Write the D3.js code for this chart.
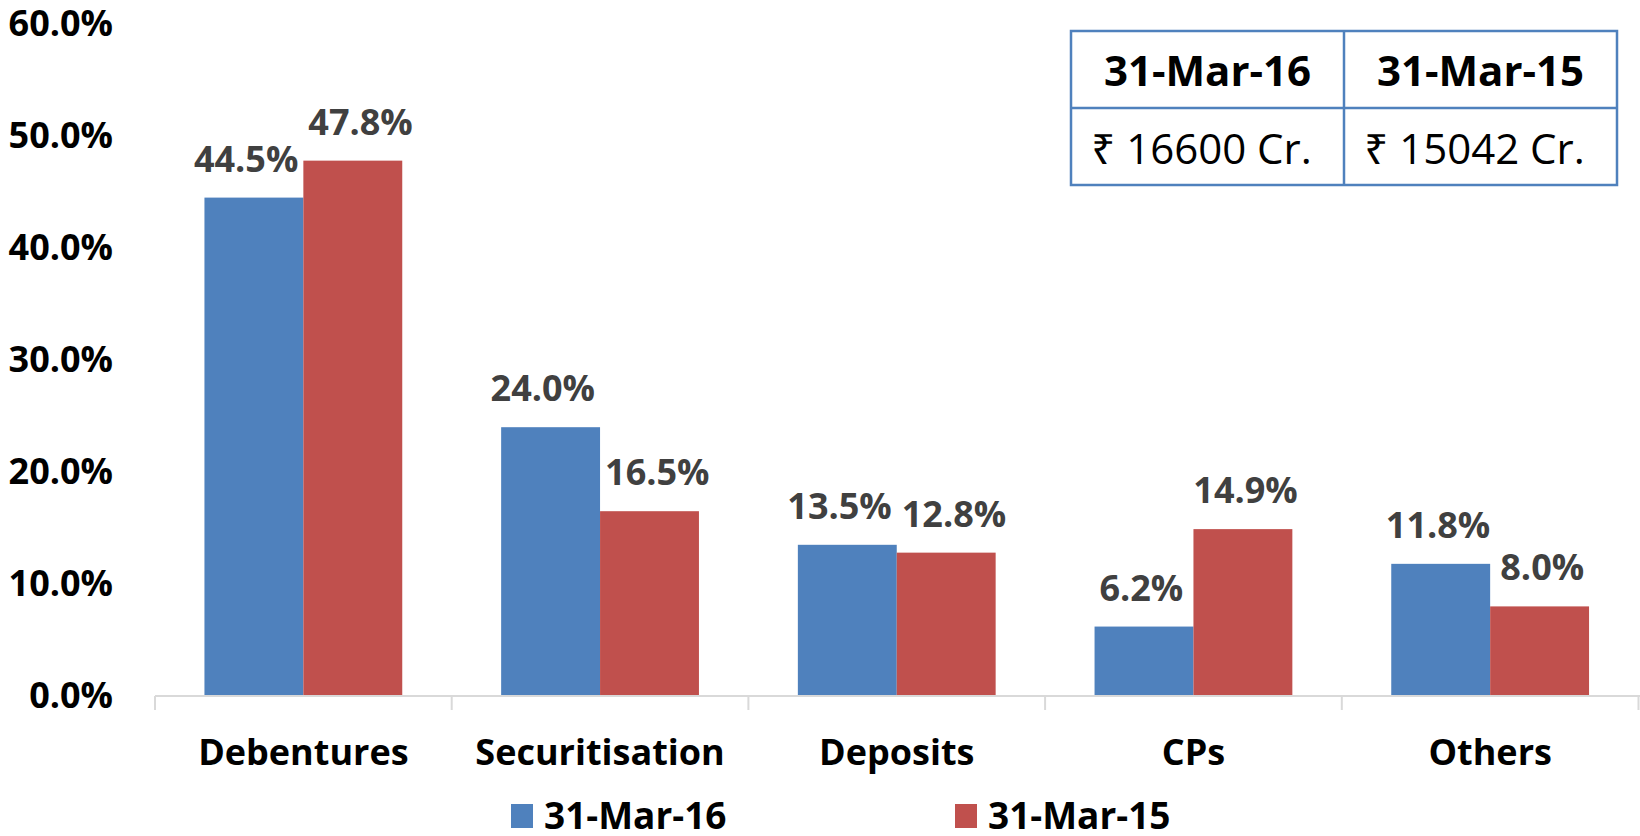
<!DOCTYPE html>
<html>
<head>
<meta charset="utf-8">
<script src="https://cdn.jsdelivr.net/npm/d3@7/dist/d3.min.js"></script>
<style>
html,body{margin:0;padding:0;background:#fff;}
svg{display:block;font-family:"Open Sans","Noto Sans","DejaVu Sans",sans-serif;}
</style>
</head>
<body>
<svg id="chart" width="1640" height="836"></svg>
<script>
const categories = ["Debentures", "Securitisation", "Deposits", "CPs", "Others"];
const seriesNames = ["31-Mar-16", "31-Mar-15"];
const values16 = [44.5, 24.0, 13.5, 6.2, 11.8];
const values15 = [47.8, 16.5, 12.8, 14.9, 8.0];
const yTicks = [0, 10, 20, 30, 40, 50, 60];
const tableHeader = ["31-Mar-16", "31-Mar-15"];
const tableValues = ["₹ 16600 Cr.", "₹ 15042 Cr."];

(function () {
const colors = ["#4F81BD", "#C0504D"];
const seriesValues = [values16, values15];

const svg = d3.select("#chart");
const pLeft = 155, pRight = 1638.5, pTop = 24, pBottom = 696;

const x0 = d3.scaleBand().domain(categories).range([pLeft, pRight]).paddingInner(0).paddingOuter(0);
const bw = x0.bandwidth();
const x1 = d3.scaleBand().domain(seriesNames).range([bw / 6, bw * 5 / 6]).padding(0);
const y = d3.scaleLinear().domain([0, 60]).range([pBottom, pTop]);

// Y axis
const yAxis = d3.axisLeft(y).tickValues(yTicks).tickSize(0).tickPadding(0)
  .tickFormat(d => d.toFixed(1) + "%");
const yg = svg.append("g").attr("transform", "translate(113,0)").call(yAxis);
yg.select(".domain").remove();
yg.attr("font-family", null);
yg.selectAll("text").attr("font-size", 36).attr("font-weight", "bold")
  .attr("fill", "#000");

// Bars
const data = [];
categories.forEach((c, i) => {
  seriesNames.forEach((s, j) => data.push({ cat: c, ser: s, j: j, v: seriesValues[j][i] }));
});
svg.append("g").selectAll("rect").data(data).join("rect")
  .attr("x", d => x0(d.cat) + x1(d.ser))
  .attr("y", d => y(d.v))
  .attr("width", x1.bandwidth())
  .attr("height", d => y(0) - y(d.v))
  .attr("fill", d => colors[d.j]);

// X axis line and boundary ticks
svg.append("line").attr("x1", pLeft).attr("x2", 1640).attr("y1", pBottom).attr("y2", pBottom)
  .attr("stroke", "#D9D9D9").attr("stroke-width", 2);
const boundaries = categories.map(c => x0(c)).concat([pRight]);
svg.append("g").selectAll("line").data(boundaries).join("line")
  .attr("x1", d => d).attr("x2", d => d).attr("y1", pBottom).attr("y2", pBottom + 14)
  .attr("stroke", "#D9D9D9").attr("stroke-width", 2);

// X labels
svg.append("g").selectAll("text").data(categories).join("text")
  .attr("x", d => x0(d) + bw / 2).attr("y", 765)
  .attr("text-anchor", "middle").attr("font-size", 36).attr("font-weight", "bold")
  .attr("fill", "#000").text(d => d);

// Data labels
const labels = svg.append("g").selectAll("text").data(data).join("text")
  .attr("x", d => x0(d.cat) + x1(d.ser) + x1.bandwidth() / 2)
  .attr("y", d => y(d.v) - 26)
  .attr("text-anchor", "middle").attr("font-size", 36).attr("font-weight", "bold")
  .attr("fill", "#404040").text(d => d.v.toFixed(1) + "%");

// Resolve horizontal overlaps within a category
categories.forEach(c => {
  const nodes = labels.filter(d => d.cat === c).nodes();
  if (nodes.length < 2) return;
  const a = nodes[0], b = nodes[1];
  const wa = a.getComputedTextLength(), wb = b.getComputedTextLength();
  const xa = +a.getAttribute("x"), xb = +b.getAttribute("x");
  const overlap = (xa + wa / 2 + 10) - (xb - wb / 2);
  if (overlap > 0) {
    a.setAttribute("x", xa - overlap / 2);
    b.setAttribute("x", xb + overlap / 2);
  }
});

// Table
const tX = 1071, tY = 31, cw = 273, rh = 77;
const tg = svg.append("g");
[0, 1].forEach(col => {
  tg.append("text").attr("x", tX + cw * col + cw / 2).attr("y", tY + 55)
    .attr("text-anchor", "middle").attr("font-size", 42).attr("font-weight", "bold")
    .attr("fill", "#000").text(tableHeader[col]);
  tg.append("text").attr("x", tX + cw * col + cw / 2 - 6).attr("y", tY + rh + 56)
    .attr("text-anchor", "middle").attr("font-size", 42)
    .attr("fill", "#000").text(tableValues[col]);
});
tg.append("rect").attr("x", tX).attr("y", tY).attr("width", cw * 2).attr("height", rh * 2)
  .attr("fill", "none").attr("stroke", "#4F81BD").attr("stroke-width", 2.5);
tg.append("line").attr("x1", tX + cw).attr("x2", tX + cw).attr("y1", tY).attr("y2", tY + rh * 2)
  .attr("stroke", "#4F81BD").attr("stroke-width", 2.5);
tg.append("line").attr("x1", tX).attr("x2", tX + cw * 2).attr("y1", tY + rh).attr("y2", tY + rh)
  .attr("stroke", "#4F81BD").attr("stroke-width", 2.5);

// Legend
const legendX = [511, 955];
seriesNames.forEach((s, j) => {
  const g = svg.append("g").attr("transform", `translate(${legendX[j]},804)`);
  g.append("rect").attr("width", 22).attr("height", 24).attr("fill", colors[j]);
  g.append("text").attr("x", 33).attr("y", 25)
    .attr("font-size", 37).attr("font-weight", "bold").attr("fill", "#000").text(s);
});
})();
</script>
</body>
</html>
